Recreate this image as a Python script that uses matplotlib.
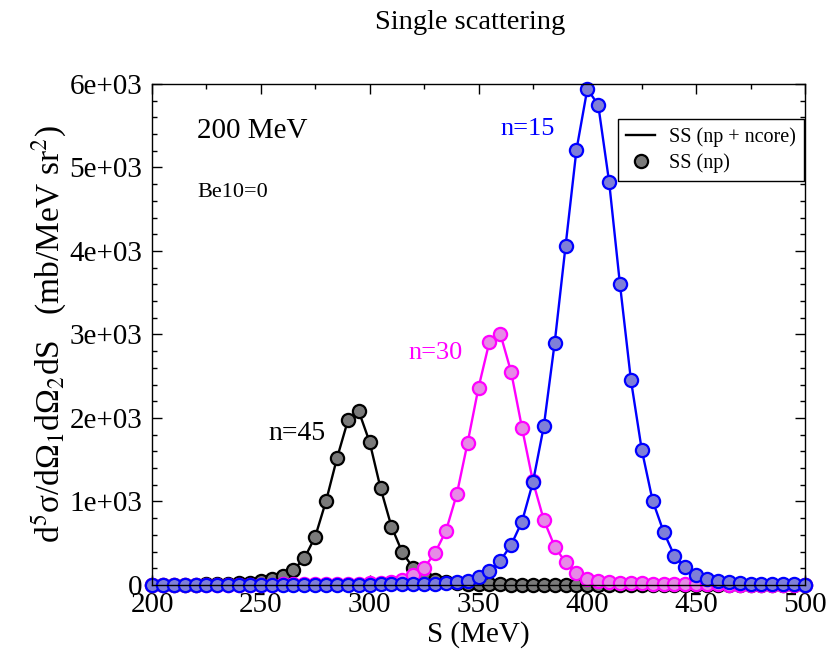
import numpy as np
import matplotlib
matplotlib.use('Agg')
from matplotlib import pyplot as plt
from matplotlib.lines import Line2D
from matplotlib.ticker import MultipleLocator, FuncFormatter

plt.rcParams['font.family'] = ['Liberation Serif', 'DejaVu Serif']
plt.rcParams['mathtext.fontset'] = 'stix'

# Energia S (MeV), paso de 5 MeV
S = np.arange(200, 501, 5)

# Seccion eficaz para cada n (mb/MeV sr^2)
n45 = [2, 3, 3, 4, 5, 7, 9, 13, 19, 28,
       42, 68, 105, 180, 320, 580, 1010, 1520, 1970, 2080,
       1710, 1160, 700, 390, 205, 110, 62, 38, 25, 17,
       12, 9, 7, 5, 4, 3, 3, 2, 2, 2,
       2, 2, 1, 1, 1, 1, 1, 1, 1, 1,
       1, 1, 1, 1, 1, 1, 1, 1, 1, 1, 1]
n30 = [1, 1, 1, 1, 2, 2, 2, 3, 3, 4,
       4, 5, 6, 7, 8, 9, 10, 12, 14, 17,
       20, 28, 40, 64, 124, 204, 384, 644, 1084, 1704,
       2364, 2910, 3010, 2550, 1880, 1240, 780, 460, 270, 140,
       75, 50, 35, 27, 22, 18, 15, 12, 10, 9,
       8, 7, 6, 5, 4, 4, 3, 3, 3, 2, 2]
n15 = [1, 1, 1, 1, 1, 1, 1, 1, 1, 2,
       2, 2, 2, 2, 3, 3, 3, 4, 4, 5,
       5, 6, 7, 9, 11, 14, 17, 22, 30, 48,
       96, 165, 290, 480, 760, 1230, 1900, 2900, 4060, 5210,
       5940, 5750, 4830, 3600, 2460, 1620, 1010, 640, 350, 210,
       125, 70, 45, 30, 22, 16, 12, 9, 7, 6, 5]

curvas = [
    (n45, 'black', '#7a7a7a'),
    (n30, '#ff00ff', '#e68ae6'),
    (n15, '#0000ff', '#7f7fd8'),
]

fig = plt.figure(figsize=(8.28, 6.52), dpi=100)
ax = fig.add_axes([0.1836, 0.1028, 0.7886, 0.7684])

# Linea continua (np + ncore) y circulos (np) para cada curva
for y, color, relleno in curvas:
    ax.plot(S, y, '-', color=color, lw=1.7, clip_on=False)
    ax.plot(S, y, 'o', ms=9.5, mfc=relleno, mec=color, mew=1.6, clip_on=False)

ax.set_xlim(200, 500)
ax.set_ylim(0, 6000)

ax.xaxis.set_major_locator(MultipleLocator(50))
ax.xaxis.set_minor_locator(MultipleLocator(25))
ax.yaxis.set_major_locator(MultipleLocator(1000))
ax.yaxis.set_minor_locator(MultipleLocator(200))
ax.yaxis.set_major_formatter(FuncFormatter(lambda v, p: '0' if v == 0 else '%.0e' % v))

ax.tick_params(which='both', direction='in', top=True, right=True, labelsize=21)
ax.tick_params(which='major', length=7, width=1)
ax.tick_params(which='minor', length=3.5, width=1)
ax.tick_params(axis='x', which='major', pad=5)
ax.tick_params(axis='y', which='major', pad=7)
for sp in ax.spines.values():
    sp.set_linewidth(1)

ax.set_xlabel('S (MeV)', fontsize=21, labelpad=2)
ax.set_ylabel('d$^5$σ/dΩ$_1$dΩ$_2$dS   (mb/MeV sr$^2$)', fontsize=24, labelpad=0)
fig.text(0.568, 0.966, 'Single scattering', ha='center', va='center', fontsize=20.5)

# Etiquetas dentro del grafico
ax.text(220.7, 5440, '200 MeV', fontsize=21, va='center')
ax.text(221, 4700, 'Be10=0', fontsize=16, va='center')
ax.text(360, 5460, 'n=15', fontsize=19, color='#0000ff', va='center')
ax.text(317.8, 2780, 'n=30', fontsize=19, color='#ff00ff', va='center')
ax.text(253.4, 1820, 'n=45', fontsize=20, color='black', va='center')

handles = [
    Line2D([], [], color='black', lw=1.7),
    Line2D([], [], ls='none', marker='o', ms=9.5, mfc='#7a7a7a', mec='black', mew=1.6),
]
leg = ax.legend(handles, ['SS (np + ncore)', 'SS (np)'], loc='upper right',
                bbox_to_anchor=(0.998, 0.93), borderaxespad=0, fontsize=14.5,
                fancybox=False, framealpha=1, edgecolor='black',
                handlelength=1.4, handletextpad=0.7, borderpad=0.4, labelspacing=0.3)
leg.get_frame().set_linewidth(1)

fig.savefig('out.png', dpi=100)
